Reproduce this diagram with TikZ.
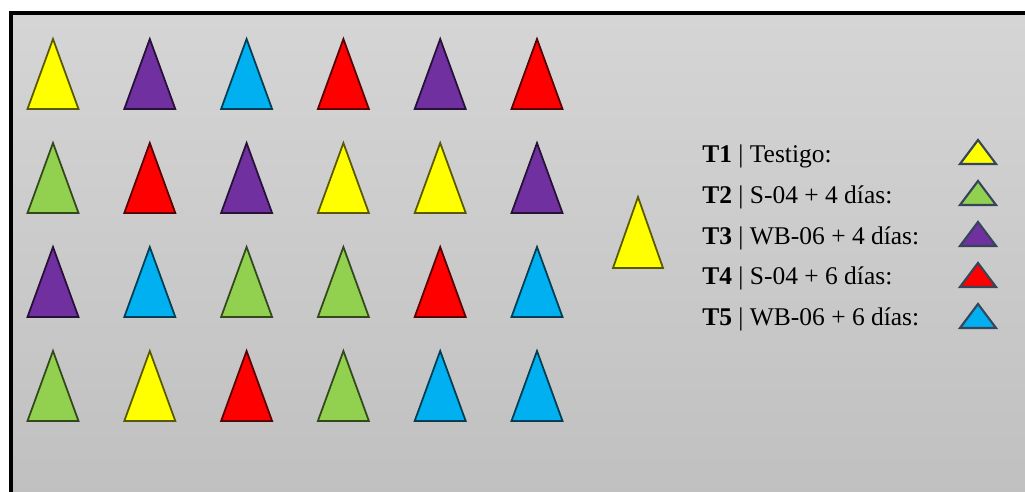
\documentclass[tikz,border=0pt]{standalone}
\usepackage{fontspec}
\setmainfont{Liberation Serif}
\usetikzlibrary{positioning}
\definecolor{triyellow}{HTML}{FFFF00}
\definecolor{tripurple}{HTML}{7030A0}
\definecolor{triblue}{HTML}{00B0F0}
\definecolor{trired}{HTML}{FF0000}
\definecolor{trigreen}{HTML}{92D050}
\definecolor{keyline}{HTML}{36455A}
\definecolor{bgtop}{HTML}{D5D5D5}
\definecolor{bgbottom}{HTML}{C0C0C0}

\begin{document}
\begin{tikzpicture}[x=0.02cm, y=-0.02cm]
  \tikzstyle{plant}=[line width=1pt, line join=miter]
  \tikzstyle{keytri}=[line width=1.2pt, draw=keyline, line join=miter]
  \tikzstyle{keytext}=[anchor=base west, inner sep=0pt, font=\fontsize{14.5}{17}\selectfont]
  \useasboundingbox (0,0) rectangle (1025,492);
  \fill[white] (0,0) rectangle (1025,492);
  \begin{scope}
    \clip (0,0) rectangle (1025,492);
    \shade[top color=bgtop, bottom color=bgbottom] (13,15) rectangle (1025,492);
    \draw[line width=0.08cm] (11,520) -- (11,13) -- (1060,13);
  \end{scope}

  % field plots, four rows of six
  \foreach \r/\clist in {0/{triyellow,tripurple,triblue,trired,tripurple,trired},
                         1/{trigreen,trired,tripurple,triyellow,triyellow,tripurple},
                         2/{tripurple,triblue,trigreen,trigreen,trired,triblue},
                         3/{trigreen,triyellow,trired,trigreen,triblue,triblue}}
    \foreach \c [count=\i from 0] in \clist
      \filldraw[plant, fill=\c, draw=\c!35!black]
        ({53+96.8*\i},{39+104*\r}) -- ++(25.5,70) -- ++(-51,0) -- cycle;

  % lone plot beside the grid
  \filldraw[plant, fill=triyellow, draw=triyellow!35!black]
    (638,197) -- ++(25,71) -- ++(-50,0) -- cycle;

  % legend
  \foreach \n/\txt/\c in {1/{| Testigo:}/triyellow,
                          2/{| S-04 + 4 días:}/trigreen,
                          3/{| WB-06 + 4 días:}/tripurple,
                          4/{| S-04 + 6 días:}/trired,
                          5/{| WB-06 + 6 días:}/triblue}
  {
    \node[keytext] (key\n) at (702,{163+40.6*(\n-1)}) {\textbf{T\n} \txt};
    \filldraw[keytri, fill=\c] (978,{140+41*(\n-1)}) -- ++(18,24) -- ++(-36,0) -- cycle;
  }
\end{tikzpicture}
\end{document}
